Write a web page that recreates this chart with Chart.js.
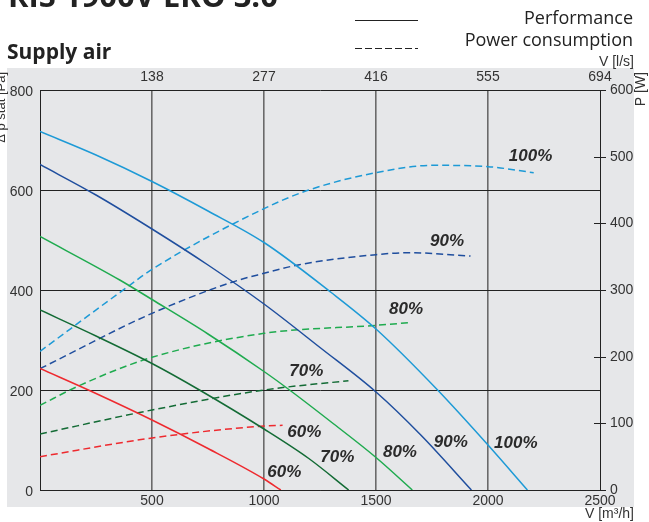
<!DOCTYPE html>
<html>
<head>
<meta charset="utf-8">
<script src="https://cdn.jsdelivr.net/npm/chart.js@4.4.1/dist/chart.umd.min.js"></script>
<style>
  html, body { margin: 0; padding: 0; background: #fff; }
  canvas { display: block; }
</style>
</head>
<body>
<canvas id="chart" width="649" height="522"></canvas>
<script>
// performance curves, flow in m3/h, static pressure in Pa
var flow100 = [0, 250, 500, 750, 1000, 1300, 1500, 1775, 2000, 2176];
var pa100 = [717, 670, 617, 558, 495, 395, 322, 200, 90, 0];
var flow90 = [0, 250, 500, 750, 1000, 1250, 1500, 1700, 1926];
var pa90 = [651, 590, 522, 450, 372, 285, 196, 110, 0];
var flow80 = [0, 356, 500, 750, 1000, 1114, 1300, 1500, 1662];
var pa80 = [507, 420, 381, 312, 237, 200, 136, 65, 0];
var flow70 = [0, 250, 500, 712, 1000, 1200, 1378];
var pa70 = [360, 308, 253, 200, 122, 63, 0];
var flow60 = [0, 250, 500, 750, 1000, 1075];
var pa60 = [243, 193, 140, 83, 22, 0];

// power consumption curves, flow in m3/h, power in W
var pflow100 = [0, 400, 500, 1000, 1200, 1500, 1750, 2000, 2204];
var w100 = [208, 307, 331, 422, 450, 476, 487, 485, 476];
var pflow90 = [0, 500, 860, 1000, 1158, 1500, 1650, 1922];
var w90 = [182, 265, 312, 325, 338, 353, 356, 351];
var pflow80 = [0, 178, 500, 1000, 1500, 1647];
var w80 = [127, 157, 199, 235, 247, 251];
var pflow70 = [0, 500, 1000, 1377];
var w70 = [84, 120, 150, 164];
var pflow60 = [0, 500, 1000, 1083];
var w60 = [50, 78, 96, 97];

// top axis in l/s
var topTickLabels = ['', '138', '277', '416', '555', '694'];

// curve labels, placed in data units (m3/h, Pa)
var labelText = ['100%', '90%', '80%', '70%', '60%', '60%', '70%', '80%', '90%', '100%'];
var labelFlow = [2190, 1817, 1634, 1189, 1180, 1091, 1327, 1607, 1834, 2124];
var labelPa = [668, 498, 362, 238, 116, 36, 66, 76, 96, 94];

var colors = {
  c100: '#1d9ad6',
  c90: '#1f4e9e',
  c80: '#1fab4f',
  c70: '#136b35',
  c60: '#ee2a2f'
};

function pts(xs, ys){
  return xs.map(function(x, i){ return {x: x, y: ys[i]}; });
}

function curve(xs, ys, color, axis, dashed){
  return {
    data: pts(xs, ys),
    yAxisID: axis,
    borderColor: color,
    borderWidth: 1.5,
    borderDash: dashed ? [7, 4] : [],
    pointRadius: 0,
    fill: false,
    cubicInterpolationMode: 'monotone'
  };
}

var fam = "'Liberation Sans', Arial, sans-serif";
var tickFont = {family: fam, size: 14};

var decorations = {
  id: 'decorations',
  beforeDraw: function(chart){
    var ctx = chart.ctx;
    ctx.save();
    ctx.fillStyle = '#e6e7e9';
    ctx.fillRect(7, 68, 627, 439);
    ctx.restore();
  },
  afterDraw: function(chart){
    var ctx = chart.ctx;
    var xs = chart.scales.x, ys = chart.scales.y, y2 = chart.scales.y2;
    ctx.save();

    // crossing ticks on the power axis
    ctx.strokeStyle = '#222';
    ctx.lineWidth = 1;
    y2.ticks.forEach(function(t){
      var py = Math.round(y2.getPixelForValue(t.value)) + 0.5;
      var inner = (t.value === 0 || t.value === 600) ? 0 : 6;
      ctx.beginPath();
      ctx.moveTo(xs.right - inner, py);
      ctx.lineTo(xs.right + 6, py);
      ctx.stroke();
    });

    // title and legend
    ctx.fillStyle = '#222';
    ctx.textBaseline = 'alphabetic';
    ctx.textAlign = 'left';
    ctx.font = 'bold 31px "Open Sans"';
    ctx.fillText('RIS 1900V EKO 3.0', 8, 7);
    ctx.font = 'bold 21px "Open Sans"';
    ctx.fillText('Supply air', 7, 59);

    ctx.font = '18px "Open Sans"';
    ctx.textAlign = 'right';
    ctx.fillText('Performance', 633, 24);
    ctx.fillText('Power consumption', 633, 46);

    ctx.strokeStyle = '#222';
    ctx.lineWidth = 1.2;
    ctx.beginPath();
    ctx.moveTo(355, 20.5);
    ctx.lineTo(418, 20.5);
    ctx.stroke();
    ctx.setLineDash([7, 3]);
    ctx.beginPath();
    ctx.moveTo(355, 48.5);
    ctx.lineTo(418, 48.5);
    ctx.stroke();
    ctx.setLineDash([]);

    // axis titles
    ctx.font = '14px ' + fam;
    ctx.fillStyle = '#333';
    ctx.textAlign = 'right';
    ctx.fillText('V [l/s]', 634, 66);
    ctx.fillText('V [m\u00b3/h]', 634, 518);

    ctx.save();
    ctx.translate(645, 72);
    ctx.rotate(-Math.PI / 2);
    ctx.textAlign = 'right';
    ctx.textBaseline = 'alphabetic';
    ctx.fillText('P [W]', 0, 0);
    ctx.restore();

    ctx.save();
    ctx.translate(5, 72);
    ctx.rotate(-Math.PI / 2);
    ctx.textAlign = 'right';
    ctx.font = '13px ' + fam;
    ctx.fillText('\u0394 p stat [Pa]', 0, 0);
    ctx.restore();

    // curve labels
    ctx.font = 'italic bold 17px ' + fam;
    ctx.fillStyle = '#2b2b2b';
    ctx.textAlign = 'center';
    ctx.textBaseline = 'middle';
    labelText.forEach(function(t, i){
      ctx.fillText(t, xs.getPixelForValue(labelFlow[i]), ys.getPixelForValue(labelPa[i]));
    });
    ctx.restore();
  }
};

new Chart(document.getElementById('chart'), {
  type: 'line',
  data: {
    datasets: [
      curve(flow100, pa100, colors.c100, 'y', false),
      curve(flow90, pa90, colors.c90, 'y', false),
      curve(flow80, pa80, colors.c80, 'y', false),
      curve(flow70, pa70, colors.c70, 'y', false),
      curve(flow60, pa60, colors.c60, 'y', false),
      curve(pflow100, w100, colors.c100, 'y2', true),
      curve(pflow90, w90, colors.c90, 'y2', true),
      curve(pflow80, w80, colors.c80, 'y2', true),
      curve(pflow70, w70, colors.c70, 'y2', true),
      curve(pflow60, w60, colors.c60, 'y2', true)
    ]
  },
  options: {
    responsive: false,
    animation: false,
    devicePixelRatio: 1,
    layout: {padding: 0},
    plugins: {
      legend: {display: false},
      tooltip: {enabled: false}
    },
    scales: {
      x: {
        type: 'linear',
        position: 'bottom',
        min: 0,
        max: 2500,
        ticks: {
          stepSize: 500,
          font: tickFont,
          color: '#333',
          padding: 3,
          maxRotation: 0,
          callback: function(v){ return v === 0 ? '' : v; }
        },
        grid: {
          drawTicks: false,
          color: function(c){
            var v = c.tick ? c.tick.value : 0;
            return (v === 0 || v === 2500) ? '#222' : '#6a6a6a';
          },
          lineWidth: function(c){
            var v = c.tick ? c.tick.value : 0;
            return (v === 0 || v === 2500) ? 1 : 1.6;
          }
        },
        border: {display: true, color: '#222'},
        afterFit: function(scale){ scale.height = 32; }
      },
      xTop: {
        type: 'linear',
        position: 'top',
        min: 0,
        max: 2500,
        ticks: {
          stepSize: 500,
          font: tickFont,
          color: '#333',
          padding: 4,
          maxRotation: 0,
          callback: function(v, i){ return topTickLabels[i]; }
        },
        grid: {display: false, drawTicks: false},
        border: {display: false},
        afterFit: function(scale){ scale.height = 90; }
      },
      y: {
        position: 'left',
        min: 0,
        max: 800,
        ticks: {
          stepSize: 200,
          font: tickFont,
          color: '#333',
          padding: 7,
          labelOffset: 2
        },
        grid: {drawTicks: false, color: '#222', lineWidth: 1},
        border: {display: true, color: '#222'},
        afterFit: function(scale){ scale.width = 40; }
      },
      y2: {
        position: 'right',
        min: 0,
        max: 600,
        ticks: {
          stepSize: 100,
          font: tickFont,
          color: '#333',
          padding: 10
        },
        grid: {drawOnChartArea: false, drawTicks: false},
        border: {display: true, color: '#222'},
        afterFit: function(scale){ scale.width = 49; }
      }
    }
  },
  plugins: [decorations]
});
</script>
</body>
</html>
